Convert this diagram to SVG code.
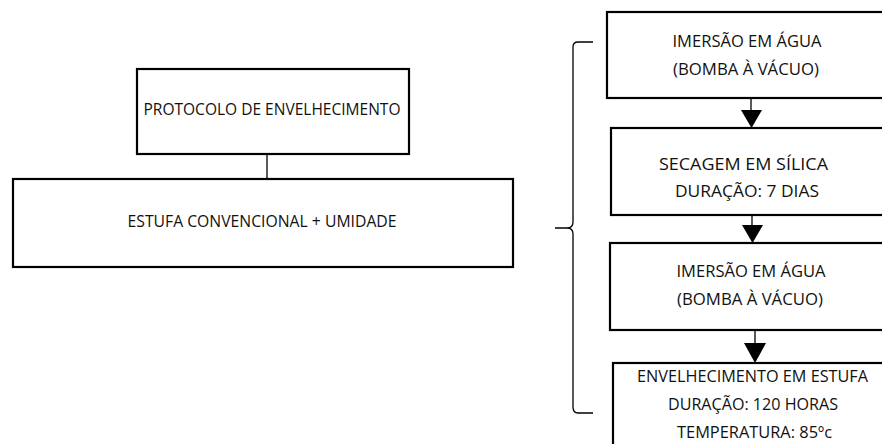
<svg xmlns="http://www.w3.org/2000/svg" width="882" height="444" viewBox="0 0 882 444">
<style>
.box{fill:#fff;stroke:#000;stroke-width:2.2}
.t{font-family:"Open Sans","Liberation Sans",sans-serif;font-size:16.5px;fill:#111;text-anchor:middle}
.ln{stroke:#000;stroke-width:1.3;fill:none}
.ah{fill:#000}
</style>
<rect width="882" height="444" fill="#fff"/>
<g id="connectors">
<line class="ln" x1="267" y1="155" x2="267" y2="179"/>
<line class="ln" x1="751" y1="99" x2="751" y2="112"/>
<line class="ln" x1="752" y1="216" x2="752" y2="227"/>
<line class="ln" x1="755" y1="331" x2="755" y2="345"/>
<path class="ah" d="M741,110 L762,110 L751.5,128 Z"/>
<path class="ah" d="M742,225 L763,225 L752.5,243 Z"/>
<path class="ah" d="M744,343 L766,343 L755,363 Z"/>
<path class="ln" d="M593,42 L578,42 Q573,42 573,47 L573,222 Q573,228 567,228 L555,228 M567,228 Q573,228 573,234 L573,407 Q573,413 578,413 L593,413"/>
</g>
<g id="n-protocolo">
<rect class="box" x="137" y="69" width="272" height="85"/>
<text class="t" x="272" y="115" textLength="257" lengthAdjust="spacingAndGlyphs">PROTOCOLO DE ENVELHECIMENTO</text>
</g>
<g id="n-estufa">
<rect class="box" x="13" y="179" width="500" height="88"/>
<text class="t" x="262" y="227" textLength="269" lengthAdjust="spacingAndGlyphs">ESTUFA CONVENCIONAL + UMIDADE</text>
</g>
<g id="n-imersao1">
<rect class="box" x="607" y="12" width="290" height="86"/>
<text class="t" x="747" y="47" textLength="149" lengthAdjust="spacingAndGlyphs">IMERSÃO EM ÁGUA</text>
<text class="t" x="746" y="75" textLength="146" lengthAdjust="spacingAndGlyphs">(BOMBA À VÁCUO)</text>
</g>
<g id="n-secagem">
<rect class="box" x="611" y="128" width="290" height="87"/>
<text class="t" x="743.5" y="170" textLength="169" lengthAdjust="spacingAndGlyphs">SECAGEM EM SÍLICA</text>
<text class="t" x="747" y="197" textLength="144" lengthAdjust="spacingAndGlyphs">DURAÇÃO: 7 DIAS</text>
</g>
<g id="n-imersao2">
<rect class="box" x="610" y="243" width="290" height="87"/>
<text class="t" x="751" y="277" textLength="149" lengthAdjust="spacingAndGlyphs">IMERSÃO EM ÁGUA</text>
<text class="t" x="750" y="305" textLength="146" lengthAdjust="spacingAndGlyphs">(BOMBA À VÁCUO)</text>
</g>
<g id="n-envelhecimento">
<rect class="box" x="613" y="363" width="290" height="100"/>
<text class="t" x="752.5" y="382" textLength="231" lengthAdjust="spacingAndGlyphs">ENVELHECIMENTO EM ESTUFA</text>
<text class="t" x="753" y="410" textLength="170" lengthAdjust="spacingAndGlyphs">DURAÇÃO: 120 HORAS</text>
<text class="t" x="754.5" y="438" textLength="155" lengthAdjust="spacingAndGlyphs">TEMPERATURA: 85ºc</text>
</g>
</svg>
